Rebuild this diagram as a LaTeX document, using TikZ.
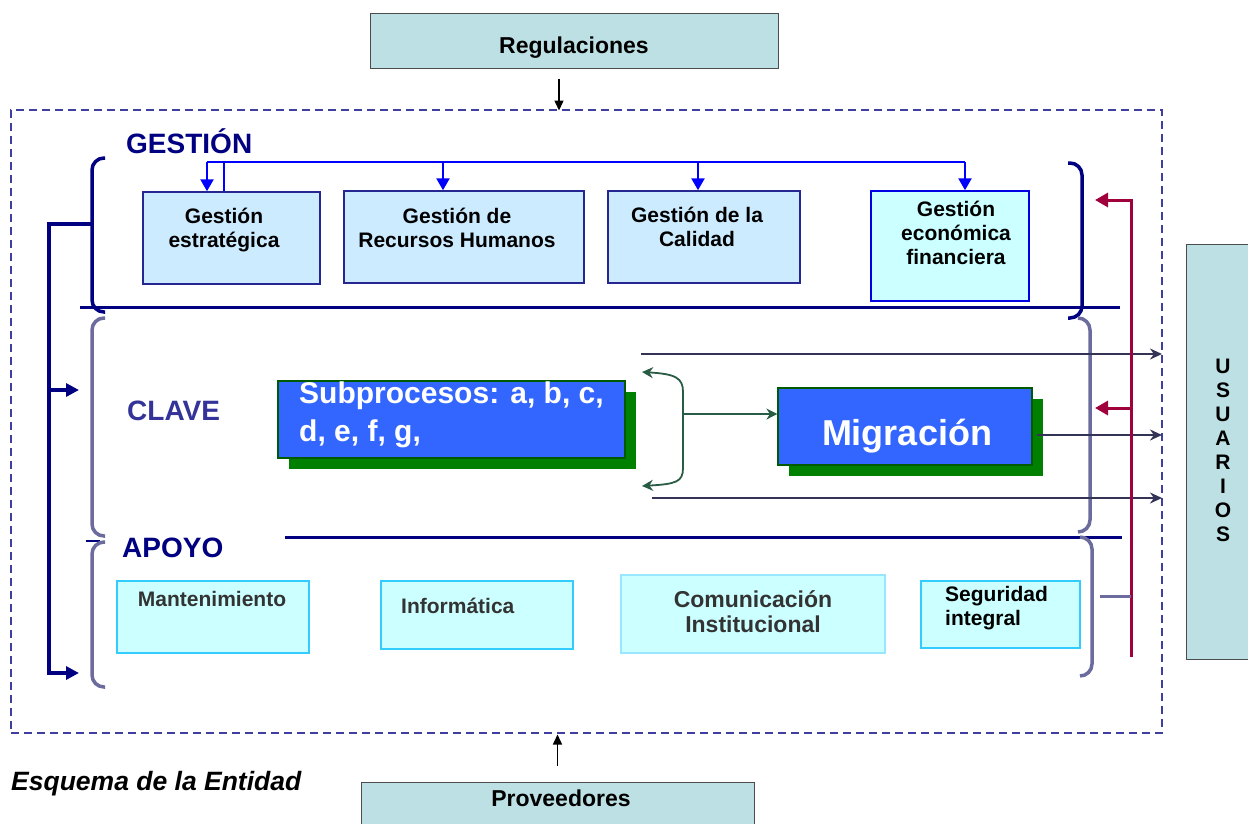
\documentclass[tikz,border=0pt]{standalone}
\usepackage{fontspec}
\setmainfont{Liberation Sans}
\usetikzlibrary{arrows.meta,shadows}

\definecolor{tealbox}{HTML}{BCE0E3}
\definecolor{gesfill}{HTML}{CCEBFF}
\definecolor{apofill}{HTML}{CCFFFF}
\definecolor{apoline}{HTML}{33CCFF}
\definecolor{navy}{HTML}{000080}
\definecolor{clavetxt}{HTML}{333399}
\definecolor{llave}{HTML}{6B6B9E}
\definecolor{azulsub}{HTML}{3366FF}
\definecolor{verde}{HTML}{008000}
\definecolor{carmin}{HTML}{A0003C}
\definecolor{borde}{HTML}{3F3FA0}
\definecolor{oscuro}{HTML}{333355}
\definecolor{gris}{HTML}{333333}

\newcommand{\letra}[2]{\fontsize{#1}{#2}\selectfont\bfseries}

\tikzset{
  marco/.style={draw=borde, line width=2pt, dash pattern=on 8pt off 5pt},
  externo/.style={draw=black!70, fill=tealbox, line width=1pt, inner sep=0pt},
  gcaja/.style={draw=navy!85!white, fill=gesfill, line width=1.5pt, inner sep=0pt},
  acaja/.style={draw=apoline, fill=apofill, line width=1.5pt, inner sep=0pt},
  proceso/.style={draw=verde!70!black, fill=azulsub, line width=1.2pt, inner sep=0pt,
    drop shadow={shadow xshift=10.5pt, shadow yshift=-10.5pt, fill=verde, opacity=1}},
  texto/.style={inner sep=0pt, align=center, font=\letra{21}{24}},
  titulo/.style={inner sep=0pt, anchor=base west, font=\letra{28}{30}},
  llaveG/.style={draw=navy, line width=3.5pt, rounded corners=12pt},
  llaveC/.style={draw=llave, line width=3.5pt, rounded corners=12pt},
  bus/.style={draw=blue, line width=1.3pt},
  baja/.style={draw=blue, line width=2.5pt, -{Triangle[length=12pt,width=13pt]}},
  retro/.style={draw=navy, line width=3.5pt, -{Triangle[length=13pt,width=13pt]}},
  usuario/.style={draw=carmin, line width=3pt, -{Triangle[length=13pt,width=14pt]}},
  salida/.style={draw=oscuro, line width=1.8pt, -{Stealth[length=12pt,width=11pt]}},
  negra/.style={draw=black, line width=1.5pt, -{Triangle[length=10pt,width=9pt]}},
  verdetip/.style={draw=oscuro!80!green, line width=1.8pt}
}

\begin{document}
\begin{tikzpicture}[x=1pt,y=-1pt]
\useasboundingbox (0,0) rectangle (1248,823);

% la entidad
\node [marco, minimum width=1151pt, minimum height=623pt] (ent) at (586.5,421.5){};

% Regulaciones
\node [externo, minimum width=408pt, minimum height=55pt] (reg) at (574,40.5){};
\node [texto, font=\letra{23}{26}, anchor=base] (regtxt) at (574,53){Regulaciones};
\draw [negra] ([xshift=-15pt,yshift=-10pt]reg.south) -- ++(0,32);

% Proveedores
\node [externo, minimum width=393pt, minimum height=60pt] (prov) at (557.5,812){};
\node [texto, font=\letra{23}{26}, anchor=base] (provtxt) at (561,806){Proveedores};
\draw [negra] ([yshift=16pt]prov.north) -- ++(0,-31);

% Usuarios
\node [externo, minimum width=76pt, minimum height=415pt] (usu) at (1224,451.5){};
\node [texto] (usutxt) at (1223,450){U\\S\\U\\A\\R\\I\\O\\S};

\node [inner sep=0pt, anchor=base west, font=\fontsize{26.5}{28}\selectfont\bfseries\itshape] (esquema) at (11,790){Esquema de la Entidad};

% GESTION
\node [titulo, text=navy] (gestion) at (126,153){GESTIÓN};
\draw [llaveG] (105,158) -- (92,158) -- (92,312) -- (105,312);
\draw [llaveG] (1068,163) -- (1082,163) -- (1082,318) -- (1068,318);
\draw [navy, line width=3pt] (80,307) -- (1120,307);

\node [gcaja, minimum width=177pt, minimum height=92pt] (ges1) at (231.5,238){};
\node [gcaja, minimum width=240pt, minimum height=92pt] (ges2) at (464,237){};
\node [gcaja, minimum width=192pt, minimum height=92pt] (ges3) at (704,237){};
\node [gcaja, draw=blue!90!black, fill=apofill, minimum width=158pt, minimum height=110pt] (ges4) at (950,246){};

% (base = ultima linea)
\node [texto, anchor=base] (ges1txt) at (224,247){Gestión\\estratégica};
\node [texto, anchor=base] (ges2txt) at (457,247){Gestión de\\Recursos Humanos};
\node [texto, anchor=base] (ges3txt) at (697,246){Gestión de la\\Calidad};
\node [texto, anchor=base] (ges4txt) at (956,264){Gestión\\económica\\financiera};

% bus de la direccion
\coordinate (busA) at (207,162);
\coordinate (busB) at (965,162);
\draw [bus] (busA) -- (busB);
\draw [bus] (224,162) -- (224,162 |- ges1.north);
\foreach \x/\caja in {207/ges1, 443/ges2, 698/ges3, 965/ges4}
  \draw [baja] (\x,162) -- (\x,162 |- \caja.north);

% retroalimentacion
\coordinate (gesL) at (92,224);
\coordinate (claveL) at (79,390);
\coordinate (apoyoL) at (79,673);
\draw [retro] (gesL) -- (49,224) -- (49 ,673) -- (apoyoL);
\draw [retro] (49,390) -- (claveL);

% CLAVE
\node [titulo, text=clavetxt] (clave) at (127,420){CLAVE};
\draw [llaveC] (105,318) -- (92,318) -- (92,536) -- (105,536);
\draw [llaveC] (1078,318) -- (1090,318) -- (1090,532) -- (1078,532);

\node [proceso, minimum width=347pt, minimum height=77pt] (sub) at (451.5,419.5){};
\node [inner sep=0pt, anchor=base west, align=left, text=white, font=\letra{30}{38}] (subtxt) at (299,441){Subprocesos: a, b, c,\\d, e, f, g,};

\node [proceso, minimum width=254pt, minimum height=77pt] (mig) at (905,426.5){};
\node [inner sep=0pt, anchor=base, text=white, font=\letra{36}{40}] (migtxt) at (907,445){Migración};

% llave entre procesos
\coordinate (bracemid) at (683,414);
\draw [verdetip, {Stealth[length=11pt,width=11pt,fill=verde]}-{Stealth[length=11pt,width=11pt,fill=verde]}]
  (642,372) .. controls (676,374) and (683,378) .. (683,392) -- (683,468)
  .. controls (683,482) and (676,484) .. (642,486);
\draw [verdetip, -{Stealth[length=11pt,width=11pt,fill=verde]}] (bracemid) -- (bracemid -| mig.west);

% salidas a usuarios
\draw [salida] (641,354) -- (1162,354);
\draw [salida] ([xshift=4pt]mig.east |- 0,435) -- (1162,435);
\draw [salida] (652,498) -- (1162,498);

% usuarios retroalimentan
\draw [usuario] (1131,657) -- (1131,200) -- (1095,200);
\draw [usuario] (1131,408) -- (1095,408);

% APOYO
\node [titulo, text=navy] (apoyo) at (122,557){APOYO};
\draw [navy, line width=2.5pt] (86,541) -- (100,541);
\draw [navy, line width=3pt] (285,537) -- (1122,537);
\draw [llaveC] (105,542) -- (92,542) -- (92,687) -- (105,687);
\draw [llaveC] (1080,537) -- (1092,537) -- (1092,676) -- (1080,676);
\draw [llave, line width=3pt] (1100,596) -- (1131,596);

\node [acaja, minimum width=192pt, minimum height=72pt] (apo1) at (213,617){};
\node [acaja, minimum width=192pt, minimum height=68pt] (apo2) at (477,615){};
\node [acaja, draw=apoline!50, minimum width=264pt, minimum height=78pt] (apo3) at (753,614){};
\node [acaja, minimum width=159pt, minimum height=67pt] (apo4) at (1000.5,614.5){};

\node [texto, text=gris, anchor=base] (apo1txt) at (212,606){Mantenimiento};
\node [texto, text=gris, anchor=base west] (apo2txt) at (401,613){Informática};
\node [texto, text=gris, font=\letra{23}{25}, anchor=base] (apo3txt) at (753,632){Comunicación\\Institucional};
\node [texto, align=left, anchor=base west] (apo4txt) at (945,625){Seguridad\\integral};

\end{tikzpicture}
\end{document}
